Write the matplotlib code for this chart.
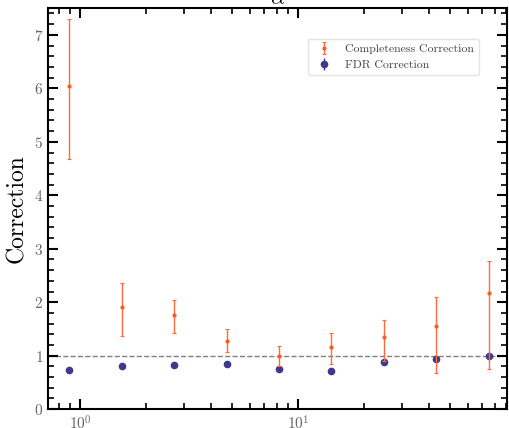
import numpy as np
import matplotlib
matplotlib.use('Agg')
import matplotlib.pyplot as plt

# values
alpha_vals = [0.89, 1.56, 2.70, 4.72, 8.18, 14.2, 24.8, 43.0, 75.2]
compl_corr = [6.05, 1.91, 1.76, 1.28, 1.00, 1.17, 1.35, 1.55, 2.17]
compl_lo = [4.68, 1.37, 1.43, 1.07, 0.80, 0.84, 0.90, 0.68, 0.75]
compl_hi = [7.30, 2.36, 2.05, 1.49, 1.19, 1.43, 1.66, 2.10, 2.78]
fdr_corr = [0.725, 0.81, 0.83, 0.84, 0.75, 0.72, 0.88, 0.94, 1.00]
fdr_err = [0.02, 0.02, 0.02, 0.02, 0.02, 0.02, 0.02, 0.02, 0.02]

plt.rcParams['font.family'] = 'cmr10'
plt.rcParams['mathtext.fontset'] = 'cm'
plt.rcParams['axes.formatter.use_mathtext'] = True

fig = plt.figure(figsize=(5.1, 4.28), dpi=100)
ax = fig.add_axes([0.094, 0.044, 0.900, 0.937])

c_or = '#ff5a1f'
c_bl = '#3d3a8c'

yerr = [np.array(compl_corr) - np.array(compl_lo), np.array(compl_hi) - np.array(compl_corr)]
ax.errorbar(alpha_vals, compl_corr, yerr=yerr, fmt='o', color=c_or, ms=2,
            elinewidth=1.0, ecolor='#ff6a3a', capsize=1.5, capthick=0.8,
            label='Completeness Correction', zorder=3)
ax.errorbar(alpha_vals, fdr_corr, yerr=fdr_err, fmt='o', color=c_bl, ms=4.5,
            elinewidth=1.0, label='FDR Correction', zorder=2)
ax.axhline(1.0, color='gray', ls='--', lw=1, zorder=1)

ax.set_xscale('log')
ax.set_xlim(0.713, 91)
ax.set_ylim(0, 7.5)
ax.set_yticks(range(0, 8))
ax.yaxis.set_minor_locator(matplotlib.ticker.MultipleLocator(0.2))
ax.tick_params(which='both', direction='in', top=True, right=True, colors='black',
               labelcolor='#666666', labelsize=11)
ax.tick_params(which='major', length=7, width=1.5)
ax.tick_params(which='minor', length=4, width=1.2)
for s in ax.spines.values():
    s.set_linewidth(1.5)

ax.set_ylabel('Correction', fontsize=17)
ax.set_title(r'$\alpha$', fontsize=16, pad=2)

leg = ax.legend(loc='upper right', bbox_to_anchor=(0.952, 0.938), fontsize=8.5,
                frameon=True, fancybox=True, framealpha=0.8, edgecolor='#dddddd')
for t in leg.get_texts():
    t.set_color('#444444')

fig.savefig('out.png', dpi=100)
